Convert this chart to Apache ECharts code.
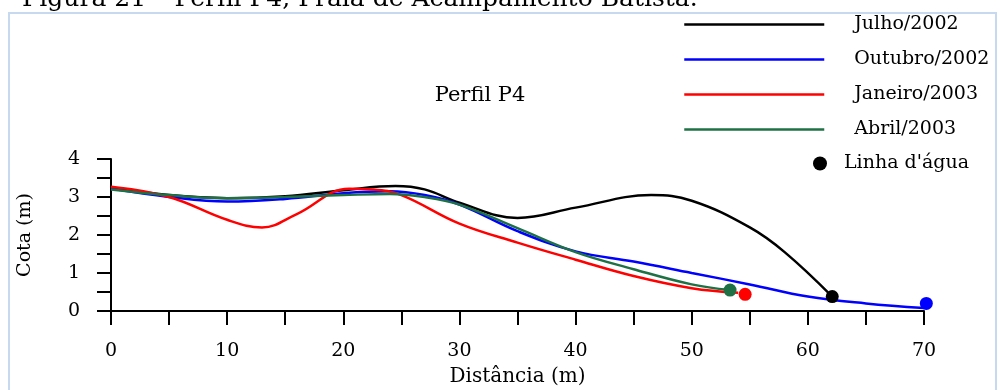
<!DOCTYPE html>
<html>
<head>
<meta charset="utf-8">
<script src="https://cdn.jsdelivr.net/npm/echarts@6/dist/echarts.min.js"></script>
<style>
  html, body { margin: 0; padding: 0; background: #ffffff; }
  #chart { width: 1000px; height: 390px; }
</style>
</head>
<body>
<div id="chart"></div>
<script>
// Beach profile P4: elevation (m) versus distance (m) for four survey dates
const seriesNames = ['Julho/2002', 'Outubro/2002', 'Janeiro/2003', 'Abril/2003'];
const seriesColors = ['#000000', '#0000ff', '#ff0000', '#1e7145'];

const julho2002 = [[0, 3.25], [5, 3.05], [10, 2.97], [15, 3.02], [20, 3.18], [24.5, 3.29], [27, 3.2], [30, 2.85], [35, 2.45], [40, 2.72], [46.5, 3.05], [50, 2.9], [55, 2.2], [58, 1.55], [62.1, 0.38]];
const outubro2002 = [[0, 3.22], [5, 3.0], [10, 2.88], [15, 2.95], [20, 3.1], [24, 3.15], [27, 3.05], [30, 2.8], [35, 2.1], [40, 1.57], [45, 1.3], [50, 1.0], [55, 0.7], [60, 0.38], [65, 0.2], [70, 0.08]];
const janeiro2003 = [[0, 3.27], [5, 3.0], [10, 2.4], [13, 2.2], [16, 2.55], [20.5, 3.22], [22.5, 3.2], [25, 3.05], [30, 2.3], [35, 1.8], [40, 1.35], [45, 0.92], [50, 0.6], [54, 0.48]];
const abril2003 = [[0, 3.2], [5, 3.05], [10, 2.97], [15, 3.0], [20, 3.05], [24, 3.08], [27, 3.0], [30, 2.8], [35, 2.18], [40, 1.55], [45, 1.1], [50, 0.7], [53.3, 0.55]];

// Water line position for each survey
const waterLineName = "Linha d'água";
const waterLine = [[62.1, 0.38], [70.2, 0.2], [54.6, 0.44], [53.3, 0.55]];

const profiles = [julho2002, outubro2002, janeiro2003, abril2003];

const serif = 'DejaVu Serif';

const chart = echarts.init(document.getElementById('chart'), null, { renderer: 'canvas' });

const lineSeries = profiles.map((data, i) => ({
  name: seriesNames[i],
  type: 'line',
  data: data,
  smooth: 0.4,
  symbol: 'none',
  color: seriesColors[i],
  lineStyle: { width: 2.5, color: seriesColors[i] },
  z: 2
}));

const option = {
  backgroundColor: '#ffffff',
  animation: false,
  textStyle: { fontFamily: serif, color: '#000' },
  title: {
    text: 'Perfil P4',
    left: 475,
    top: 80,
    textAlign: 'center',
    textStyle: { fontFamily: serif, fontSize: 21, fontWeight: 'normal', color: '#000' }
  },
  graphic: [
    {
      type: 'rect',
      shape: { x: 9, y: 13, width: 987, height: 395 },
      style: { fill: 'none', stroke: '#c6d9f0', lineWidth: 2 },
      z: -1,
      silent: true
    },
    {
      type: 'text',
      x: 22,
      y: -1,
      style: {
        text: 'Figura 21 – Perfil P4, Praia de Acampamento Batista.',
        fontFamily: serif,
        fontSize: 25,
        fill: '#000',
        verticalAlign: 'middle'
      },
      silent: true
    }
  ],
  legend: [
    {
      data: seriesNames,
      orient: 'vertical',
      left: 683,
      top: 15,
      padding: 0,
      itemWidth: 140,
      itemHeight: 14,
      itemGap: 16,
      itemStyle: { opacity: 0 },
      lineStyle: { width: 2.5 },
      textStyle: { fontFamily: serif, fontSize: 19, color: '#000', padding: [0, 0, 0, 25] }
    },
    {
      data: [waterLineName],
      orient: 'vertical',
      left: 813,
      top: 154,
      padding: 0,
      itemWidth: 14,
      itemHeight: 14,
      textStyle: { fontFamily: serif, fontSize: 19, color: '#000', padding: [0, 0, 0, 12] }
    }
  ],
  grid: { left: 111, right: 76, top: 159, bottom: 79, containLabel: false },
  xAxis: {
    type: 'value',
    min: 0,
    max: 70,
    interval: 5,
    name: 'Distância (m)',
    nameLocation: 'middle',
    nameGap: 56,
    nameTextStyle: { fontFamily: serif, fontSize: 20, color: '#000' },
    axisLine: { show: true, onZero: false, lineStyle: { color: '#000', width: 2 } },
    axisTick: { show: true, inside: false, length: 14, lineStyle: { color: '#000', width: 2 } },
    axisLabel: {
      margin: 31,
      fontFamily: serif,
      fontSize: 19,
      color: '#000',
      formatter: v => (v % 10 === 0 ? String(v) : '')
    },
    splitLine: { show: false }
  },
  yAxis: {
    type: 'value',
    min: 0,
    max: 4,
    interval: 0.5,
    name: 'Cota (m)',
    nameLocation: 'middle',
    nameGap: 76,
    nameTextStyle: { fontFamily: serif, fontSize: 19, color: '#000' },
    axisLine: { show: true, onZero: false, lineStyle: { color: '#000', width: 2 } },
    axisTick: { show: true, inside: false, length: 14, lineStyle: { color: '#000', width: 2 } },
    axisLabel: {
      margin: 31,
      fontFamily: serif,
      fontSize: 19,
      color: '#000',
      formatter: v => (Number.isInteger(v) ? String(v) : '')
    },
    splitLine: { show: false }
  },
  series: lineSeries.concat([
    {
      name: waterLineName,
      type: 'scatter',
      symbol: 'circle',
      symbolSize: 13,
      clip: false,
      color: '#000000',
      itemStyle: { color: '#000000', opacity: 1 },
      data: waterLine.map((p, i) => ({ value: p, itemStyle: { color: seriesColors[i], opacity: 1 } })),
      z: 3
    }
  ])
};

chart.setOption(option);
</script>
</body>
</html>
